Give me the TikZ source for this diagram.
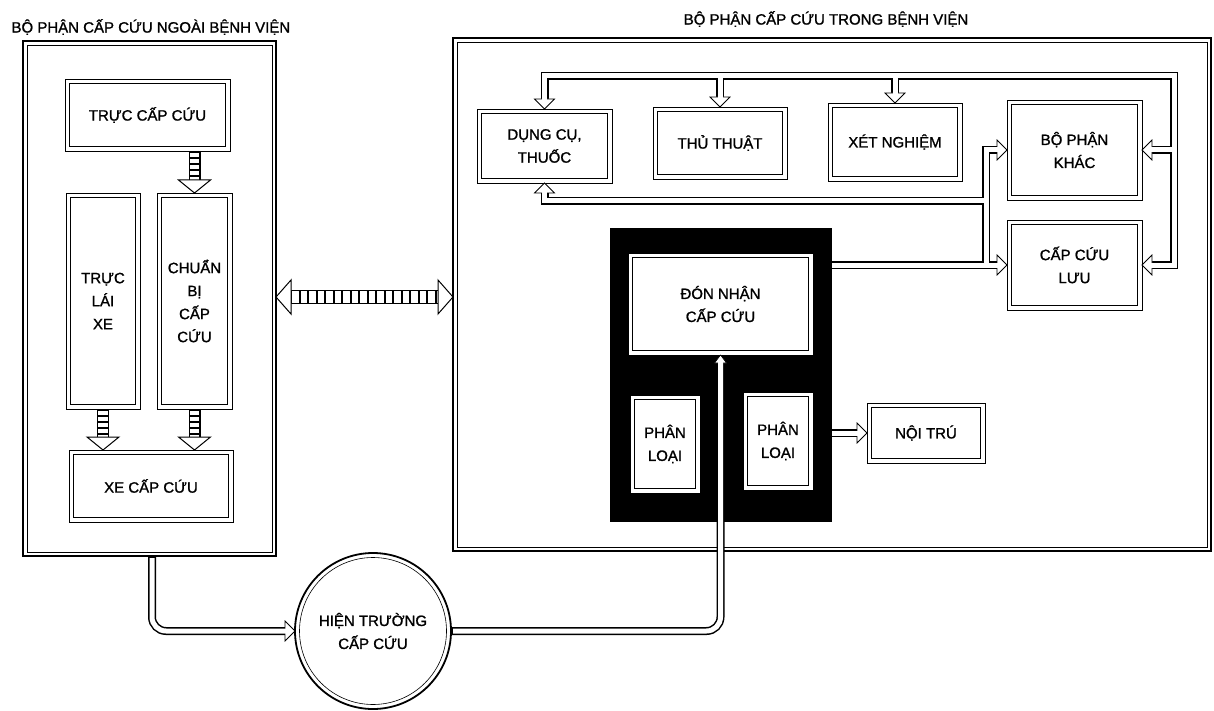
\documentclass[tikz,border=0pt]{standalone}
\usepackage{fontspec}
\setmainfont{Liberation Sans}[FakeBold=1.2]
\newcommand\mkbox[6]{%
  \pgfmathsetmacro\boxiw{#4-9}\pgfmathsetmacro\boxih{#5-9}%
  \node[frame, minimum width=#4pt, minimum height=#5pt] at (#2,#3) {};
  \node[box, minimum width=\boxiw pt, minimum height=\boxih pt] (#1) at (#2,#3) {#6};}
\begin{document}
\begin{tikzpicture}[x=1pt,y=-1pt,
  txt/.style={font=\fontsize{15}{23}\selectfont, align=center},
  frame/.style={draw, line width=0.7pt, fill=white, inner sep=0pt, outer sep=0pt},
  box/.style={draw, line width=1.6pt, inner sep=0pt, outer sep=4.5pt, txt},
  panel/.style={draw, line width=1.8pt, inner sep=0pt, outer sep=0pt},
  pipeo/.style={draw=black, line width=8pt},
  pipei/.style={draw=white, line width=5pt},
  ladder/.style 2 args={draw=black, line width=12pt, shorten <=#1, shorten >=#2,
    postaction={draw=white, line width=9.4pt, shorten <=#1, shorten >=#2},
    postaction={draw=black, line width=9.4pt, dash pattern=on 1.8pt off 4.2pt, shorten <=#1, shorten >=#2}},
  hladder/.style 2 args={draw=black, line width=14pt, shorten <=#1, shorten >=#2,
    postaction={draw=white, line width=11.4pt, shorten <=#1, shorten >=#2},
    postaction={draw=black, line width=11.4pt, dash pattern=on 2pt off 6.5pt, shorten <=#1, shorten >=#2}},
  ptip/.pic={\draw[fill=white, line width=0.8pt] (0,0) -- (-10,-10) -- (-10,10) -- cycle;},
  stip/.pic={\draw[fill=white, line width=0.6pt] (0,0) -- (-8,-6) -- (-8,6) -- cycle;},
  ltip/.pic={\draw[fill=white, line width=1pt] (0,0) -- (-13,-16) -- (-13,16) -- cycle;},
  btip/.pic={\draw[fill=white, line width=1pt] (0,0) -- (-15,-17) -- (-15,17) -- cycle;},
]
\useasboundingbox (0,0) rectangle (1214,711);
% titles
\node[txt, anchor=west] (tl1) at (8,27) {BỘ PHẬN CẤP CỨU NGOÀI BỆNH VIỆN};
\node[txt] (tl2) at (826,19) {BỘ PHẬN CẤP CỨU TRONG BỆNH VIỆN};
% panels
\node[panel, minimum width=253pt, minimum height=515pt] (lpanel) at (149.5,298.5) {};
\draw[line width=0.6pt] ([shift={(4,-4)}]lpanel.south west) rectangle ([shift={(-4,4)}]lpanel.north east);
\node[panel, minimum width=758pt, minimum height=513pt] (rpanel) at (832,294.5) {};
\draw[line width=0.6pt] ([shift={(4,-4)}]rpanel.south west) rectangle ([shift={(-4,4)}]rpanel.north east);
% black block
\node[fill=black, inner sep=0pt, outer sep=0pt, minimum width=222pt, minimum height=294pt] (blk) at (721,375) {};
% helper coordinates
\coordinate (tlr) at (1174,76);
\coordinate (vb) at (986,201);
\coordinate (hl) at (365,297);
\coordinate (lpout) at (152,556);
% boxes
\mkbox{trucCC}{147.5}{115}{165}{72}{TRỰC CẤP CỨU}
\mkbox{trucLX}{103}{301}{74}{216}{TRỰC\\LÁI\\XE}
\mkbox{chuan}{194.5}{301}{75}{216}{CHUẨN\\BỊ\\CẤP\\CỨU}
\mkbox{xeCC}{151}{486}{164}{72}{XE CẤP CỨU}
\mkbox{dung}{544.5}{146}{135}{74}{DỤNG CỤ,\\THUỐC}
\mkbox{thu}{720}{143}{134}{72}{THỦ THUẬT}
\mkbox{xet}{895}{142}{134}{78}{XÉT NGHIỆM}
\mkbox{bpk}{1074.5}{150}{135}{100}{BỘ PHẬN\\KHÁC}
\mkbox{ccl}{1074.5}{265}{135}{90}{CẤP CỨU\\LƯU}
\mkbox{don}{720.5}{304}{185}{102}{ĐÓN NHẬN\\CẤP CỨU}
\mkbox{plA}{665}{444}{70}{98}{PHÂN\\LOẠI}
\mkbox{plB}{778}{441}{70}{98}{PHÂN\\LOẠI}
\mkbox{noi}{926}{433}{118}{60}{NỘI TRÚ}
% circle
\node[circle, draw, line width=1.8pt, minimum size=156pt, inner sep=0pt, outer sep=0pt, fill=white, txt] (circ) at (373,631) {HIỆN TRƯỜNG\\CẤP CỨU};
\draw[line width=0.6pt] (circ.center) circle[radius=73.5pt];
% ladder arrows
\draw[ladder={0pt}{12pt}] (chuan.north |- trucCC.south) -- (chuan.north);
\pic[rotate=-90] at (chuan.north) {ltip};
\draw[ladder={0pt}{12pt}] (trucLX.south) -- (trucLX.south |- xeCC.north);
\pic[rotate=-90] at (trucLX.south |- xeCC.north) {ltip};
\draw[ladder={0pt}{12pt}] (chuan.south) -- (chuan.south |- xeCC.north);
\pic[rotate=-90] at (chuan.south |- xeCC.north) {ltip};
\draw[hladder={14pt}{14pt}] (lpanel.east |- hl) -- (rpanel.west |- hl);
\pic at (rpanel.west |- hl) {btip};
\pic[rotate=180] at (lpanel.east |- hl) {btip};
% pipes: outer pass
\draw[pipeo, shorten <=9pt, shorten >=9pt] (dung.north) |- (tlr) |- (ccl.east);
\draw[pipeo, shorten >=9pt] (thu.north |- tlr) -- (thu.north);
\draw[pipeo, shorten >=9pt] (xet.north |- tlr) -- (xet.north);
\draw[pipeo, shorten >=9pt] (tlr |- bpk.east) -- (bpk.east);
\draw[pipeo, shorten <=9pt] (dung.south) |- (vb);
\draw[pipeo, shorten <=9pt, shorten >=9pt] (bpk.west) -| (vb) |- (ccl.west);
\draw[pipeo, shorten >=9pt] (blk.east |- ccl.west) -- (ccl.west);
\draw[pipeo, shorten >=9pt] (blk.east |- noi.west) -- (noi.west);
\draw[pipeo, shorten >=9pt, rounded corners=14pt] (lpout) |- (circ.west);
\draw[pipeo, shorten >=7pt, rounded corners=14pt] (circ.east) -| (don.south);
% tips
\pic[rotate=-90] at (dung.north) {ptip};
\pic[rotate=180] at (ccl.east) {ptip};
\pic[rotate=-90] at (thu.north) {ptip};
\pic[rotate=-90] at (xet.north) {ptip};
\pic[rotate=180] at (bpk.east) {ptip};
\pic[rotate=90] at (dung.south) {ptip};
\pic at (bpk.west) {ptip};
\pic at (ccl.west) {ptip};
\pic at (noi.west) {ptip};
\pic at (circ.west) {ptip};
\pic[rotate=90] at (don.south) {stip};
% pipes: inner pass
\draw[pipei, shorten <=7pt, shorten >=7pt] (dung.north) |- (tlr) |- (ccl.east);
\draw[pipei, shorten >=7pt] (thu.north |- tlr) -- (thu.north);
\draw[pipei, shorten >=7pt] (xet.north |- tlr) -- (xet.north);
\draw[pipei, shorten >=7pt] (tlr |- bpk.east) -- (bpk.east);
\draw[pipei, shorten <=7pt] (dung.south) |- (vb);
\draw[pipei, shorten <=7pt, shorten >=7pt] (bpk.west) -| (vb) |- (ccl.west);
\draw[pipei, shorten >=7pt] (blk.east |- ccl.west) -- (ccl.west);
\draw[pipei, shorten >=7pt] (blk.east |- noi.west) -- (noi.west);
\draw[pipei, shorten <=2pt, shorten >=7pt, rounded corners=14pt] (lpout) |- (circ.west);
\draw[pipei, shorten <=2pt, shorten >=5pt, rounded corners=14pt] (circ.east) -| (don.south);
\end{tikzpicture}
\end{document}
